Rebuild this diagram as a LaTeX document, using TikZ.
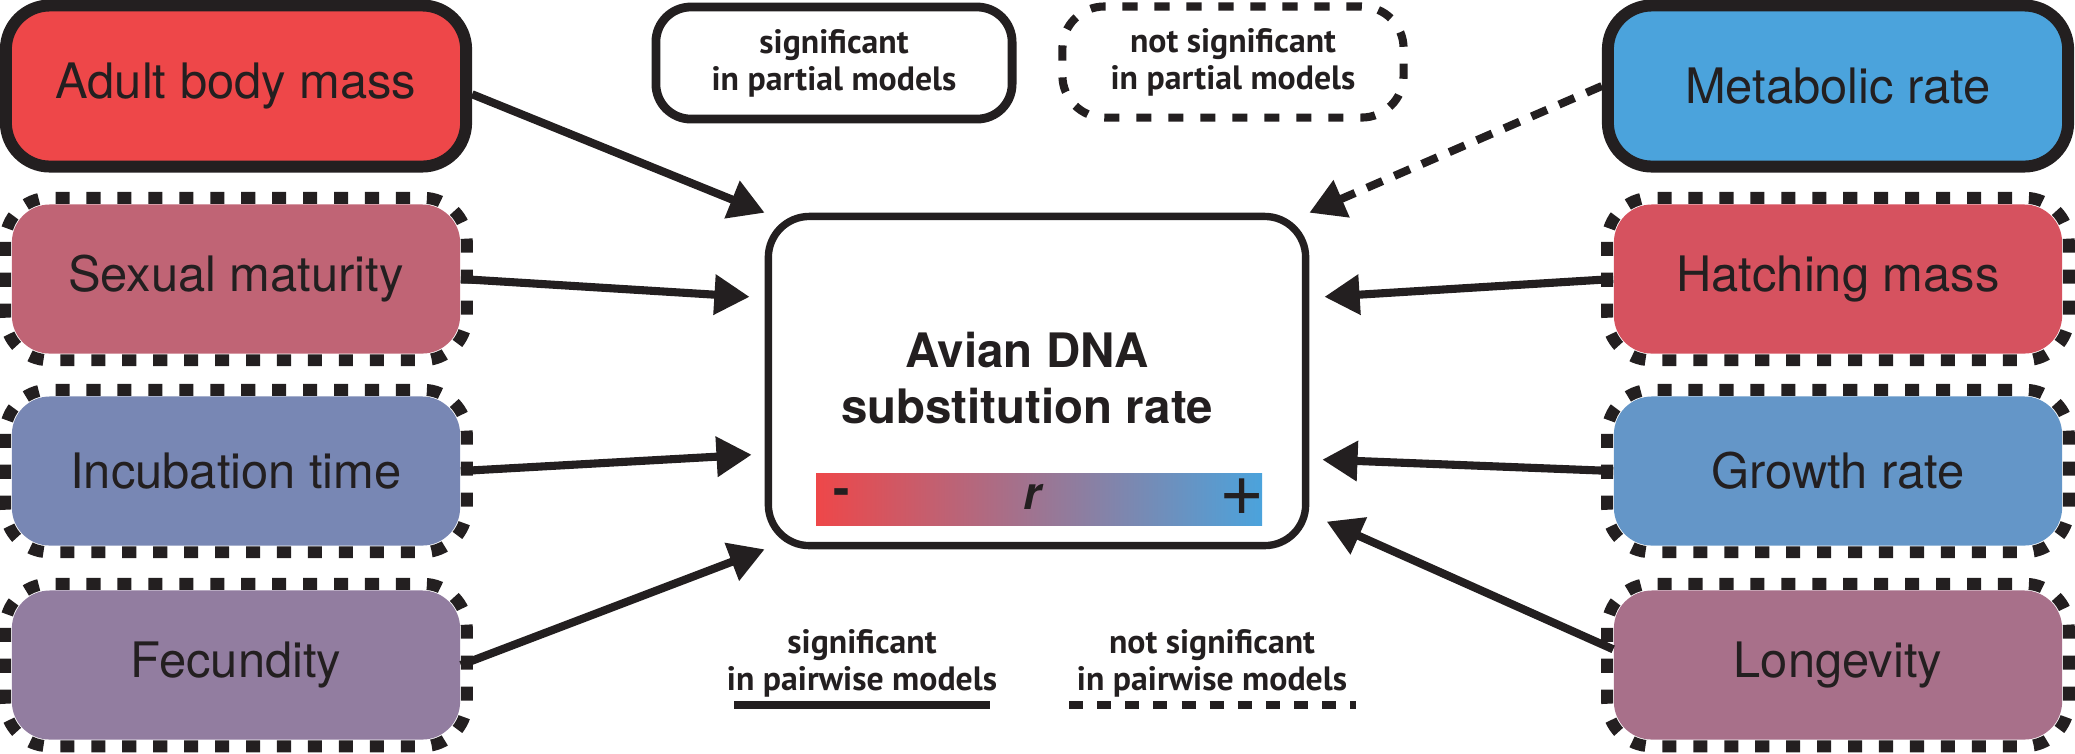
\documentclass[tikz,border=0pt]{standalone}
\usepackage{fontspec}
\setmainfont{TeX Gyre Heros}
\newfontfamily\legendfont{PT Sans}
\usepackage{tikz}
\usetikzlibrary{arrows.meta, positioning}
\definecolor{adultcolor}{RGB}{238, 71, 73}
\definecolor{maturitycolor}{RGB}{192, 100, 117}
\definecolor{incubationcolor}{RGB}{120, 135, 180}
\definecolor{fecunditycolor}{RGB}{146, 125, 160}
\definecolor{metaboliccolor}{RGB}{75, 163, 220}
\definecolor{hatchingcolor}{RGB}{214, 82, 95}
\definecolor{growthcolor}{RGB}{100, 150, 200}
\definecolor{longevitycolor}{RGB}{168, 112, 138}
\definecolor{barmidcolor}{RGB}{180, 125, 140}
\definecolor{inkcolor}{RGB}{35, 31, 32}

\begin{document}
\begin{tikzpicture}[
    x=0.01cm, y=-0.01cm,
    trait/.style={rounded corners=0.38cm, minimum width=4.48cm, minimum height=1.49cm, fill=#1, text=inkcolor, font=\fontsize{13.9}{16}\selectfont},
    sigtrait/.style={trait=#1, draw=inkcolor, line width=3.4pt, rounded corners=0.44cm, minimum width=4.6cm, minimum height=1.61cm},
    dotframe/.style={draw=inkcolor, line width=3.4pt, rounded corners=0.44cm, dash pattern=on 4pt off 4.8pt},
    link/.style={draw=inkcolor, line width=2.3pt, -{Triangle[length=10pt, width=11pt]}},
    legendtext/.style={text=inkcolor, align=center, font={\legendfont\bfseries\fontsize{9.6}{10.5}\selectfont}}
]
    \useasboundingbox (0,0) rectangle (2075,753);

    % Traits, left column
    \node[sigtrait=adultcolor] (adult) at (236, 86) {Adult body mass};
    \node[trait=maturitycolor] (sex) at (236, 279) {Sexual maturity};
    \node[trait=incubationcolor] (inc) at (236, 471) {Incubation time};
    \node[trait=fecunditycolor] (fec) at (236, 665) {Fecundity};

    % Traits, right column
    \node[sigtrait=metaboliccolor] (met) at (1838, 86) {Metabolic rate};
    \node[trait=hatchingcolor] (hat) at (1838, 279) {Hatching mass};
    \node[trait=growthcolor] (gro) at (1838, 471) {Growth rate};
    \node[trait=longevitycolor] (lon) at (1838, 665) {Longevity};

    % Dotted frames (not significant in partial models)
    \foreach \n in {sex, inc, fec, hat, gro, lon}
        \draw[dotframe] ([shift={(-6,-6)}]\n.north west) rectangle ([shift={(6,6)}]\n.south east);

    % Substitution rate
    \node[draw=inkcolor, line width=2.1pt, rounded corners=0.41cm, minimum width=5.37cm, minimum height=3.29cm] (rate) at (1037, 381) {};
    \node[text=inkcolor, align=center, font=\bfseries\fontsize{13.5}{16}\selectfont] (title) at (1027, 378) {Avian DNA\\substitution rate};
    \shade[left color=adultcolor, middle color=barmidcolor, right color=metaboliccolor] (816, 473) rectangle (1262, 525);
    \node[text=inkcolor, font=\bfseries\fontsize{14}{14}\selectfont] (minus) at (842, 497) {-};
    \node[text=inkcolor, font=\bfseries\itshape\fontsize{13}{13}\selectfont] (rsym) at (1032, 497) {r};
    \node[text=inkcolor, font=\fontsize{22}{22}\selectfont] (plus) at (1242, 497) {+};

    % Legend, partial models
    \node[legendtext, draw=inkcolor, line width=2.5pt, rounded corners=0.35cm, minimum width=3.56cm, minimum height=1.12cm] (lsig) at (834, 63) {significant\\in partial models};
    \node[legendtext, draw=inkcolor, line width=2.3pt, rounded corners=0.42cm, dash pattern=on 4.3pt off 4.8pt, minimum width=3.41cm, minimum height=1.11cm] (lnon) at (1233, 62) {not significant\\in partial models};

    % Legend, pairwise models
    \node[legendtext] (lpair) at (862, 663) {significant\\in pairwise models};
    \node[legendtext] (lnopair) at (1212, 663) {not significant\\in pairwise models};
    \draw[inkcolor, line width=2.3pt] (734, 705) -- (990, 705);
    \draw[inkcolor, line width=2.3pt, dash pattern=on 4pt off 4pt] (1069, 705) -- (1356, 705);

    % Effects on the rate
    \draw[link] (adult.-2) -- (rate.north west);
    \draw[link, shorten >=4.3pt] (sex.east) -- (rate.163);
    \draw[link, shorten >=3.7pt] (inc.east) -- (rate.195.5);
    \draw[link] (fec.east) -- (rate.south west);
    \draw[link, dash pattern=on 4.8pt off 3.7pt] (met.west) -- (rate.north east);
    \draw[link, shorten >=4.3pt] (hat.west) -- (rate.17);
    \draw[link, shorten >=3.7pt] (gro.west) -- (rate.344.5);
    \draw[link, shorten >=5.4pt] (lon.176) -- (rate.334);

\end{tikzpicture}
\end{document}
